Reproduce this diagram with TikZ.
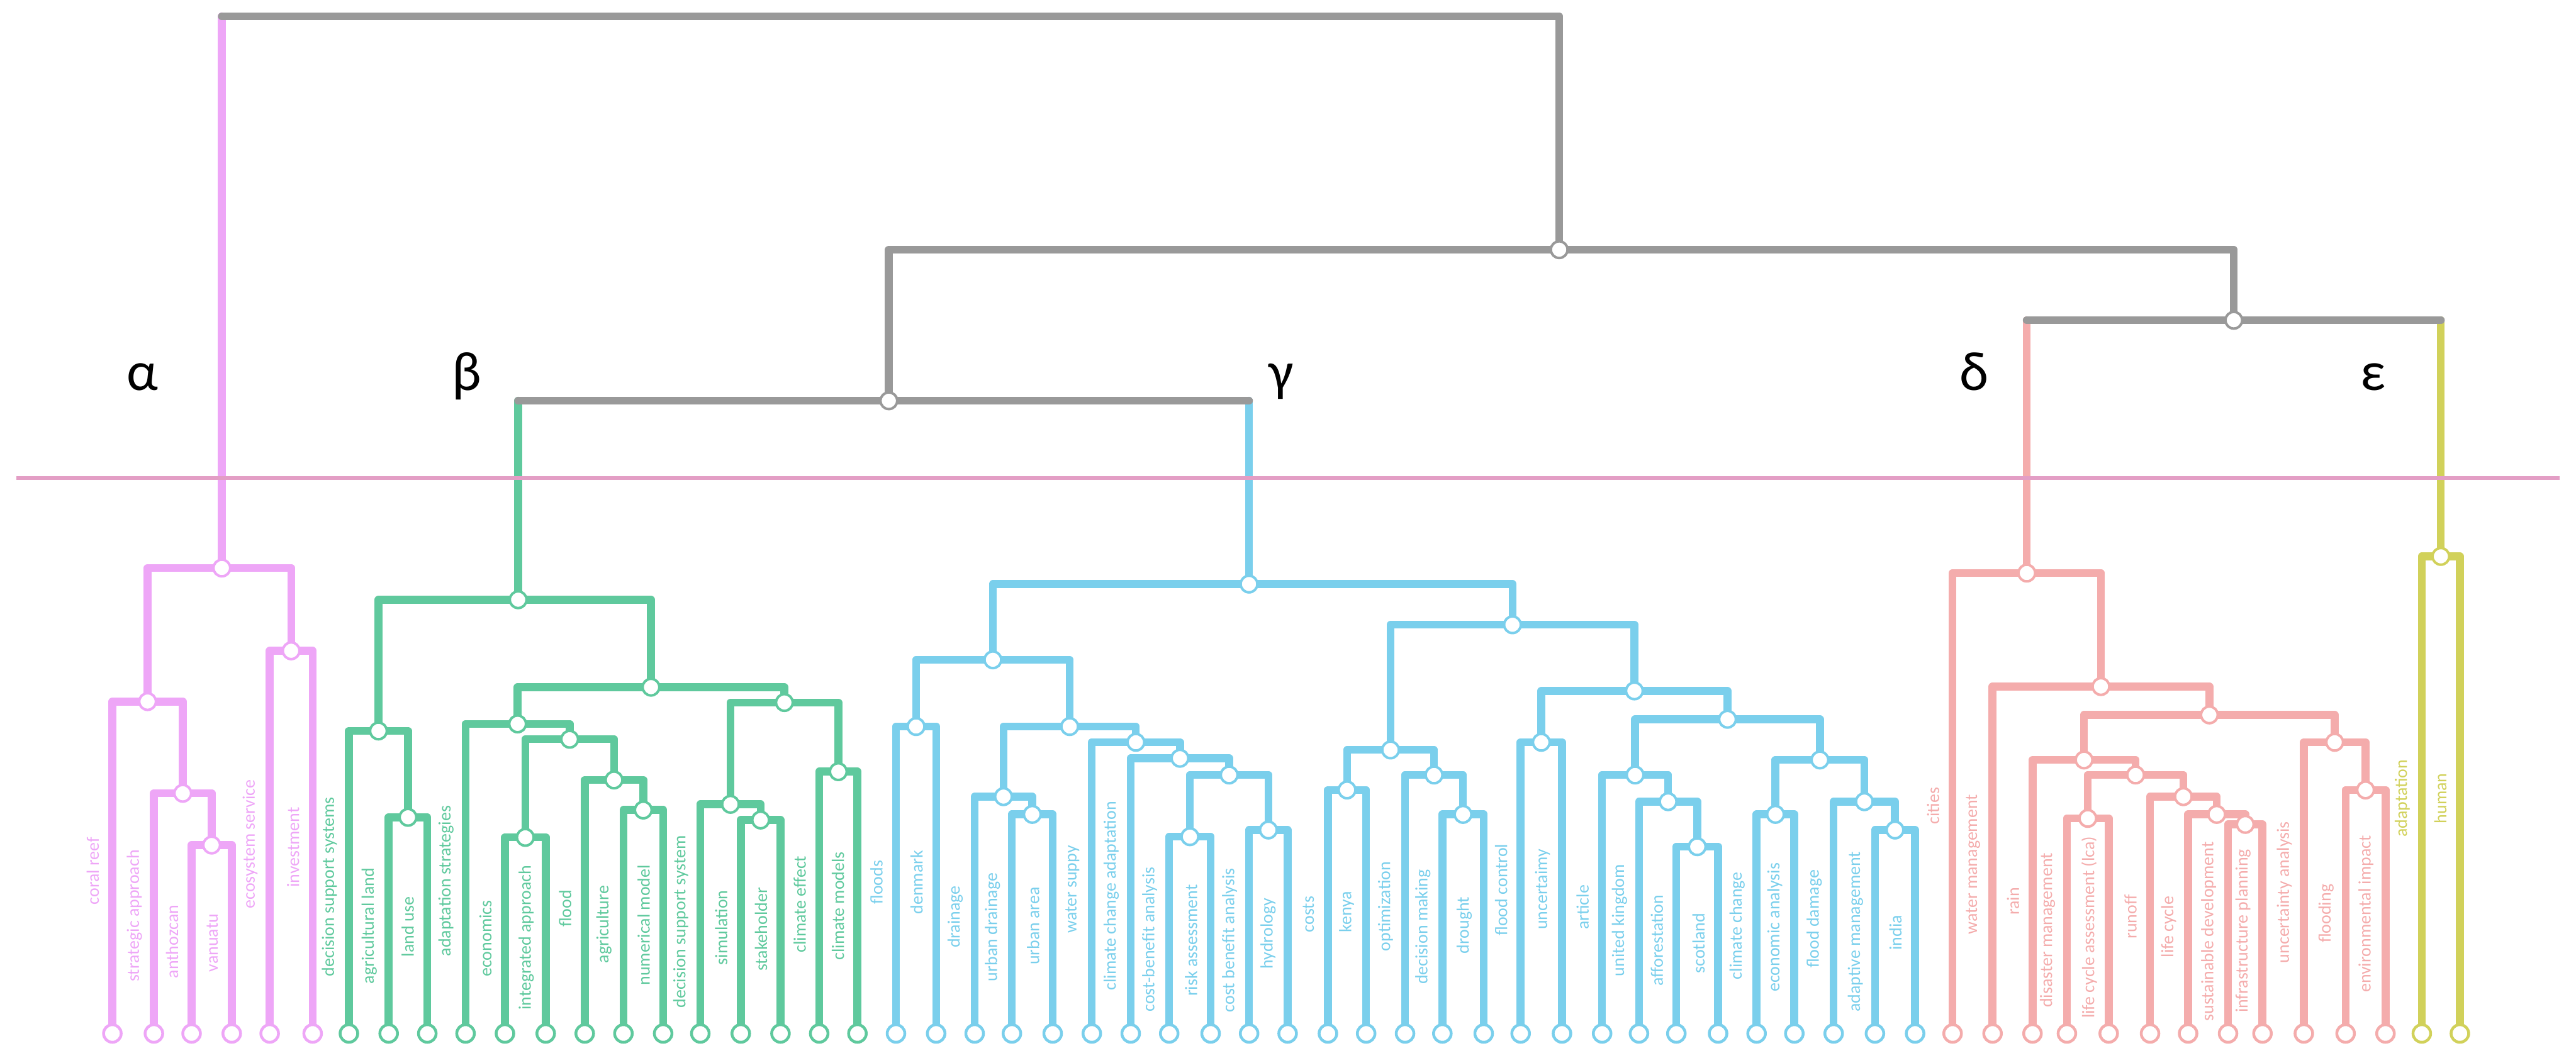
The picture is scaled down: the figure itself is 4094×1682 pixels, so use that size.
\documentclass[tikz,border=0pt]{standalone}
\usepackage{fontspec}
\setmainfont{Carlito}
\usetikzlibrary{calc}
\definecolor{cA}{HTML}{EEA6F7}
\definecolor{cB}{HTML}{5FC99D}
\definecolor{cC}{HTML}{7ACFEC}
\definecolor{cD}{HTML}{F4ACAC}
\definecolor{cE}{HTML}{D1D15A}
\definecolor{cG}{HTML}{999999}
\definecolor{cCut}{HTML}{E39EC5}
\newcommand\leafnode[5]{\coordinate (#1) at (#2,1643); \node[lab,text=#3] (#1t) at ({#2-31},#5) {#4};}
\newcommand\mergept[4]{\coordinate (#1-mx) at ($(#2)!0.5!(#3)$); \coordinate (#1-my) at (0,#4); \coordinate (#1) at (#1-mx |- #1-my);}
\newcommand\joinpair[4]{\draw[br,#4] (#2) |- (#1) -| (#3);}
\begin{document}
\begin{tikzpicture}[x=0.01cm,y=-0.01cm,
  br/.style={line width=0.125cm,line cap=round,line join=round},
  lab/.style={rotate=90,inner sep=0,font=\fontsize{7.95}{9}\selectfont},
  greek/.style={anchor=base,inner sep=0,font=\fontsize{25}{30}\selectfont},
  leafc/.style={circle,fill=white,line width=0.045cm,minimum size=0.28cm,inner sep=0},
  inode/.style={circle,fill=white,line width=0.04cm,minimum size=0.265cm,inner sep=0}]
\useasboundingbox (0,0) rectangle (4094,1682);
% leaves and labels
\leafnode{L0}{178.6}{cA}{coral reef}{1384.6}
\leafnode{L1}{244.6}{cA}{strategic approach}{1456}
\leafnode{L2}{304.5}{cA}{anthozcan}{1497}
\leafnode{L3}{368.3}{cA}{vanuatu}{1499}
\leafnode{L4}{428.6}{cA}{ecosystem service}{1342}
\leafnode{L5}{496.9}{cA}{investment}{1347}
\leafnode{L6}{554.5}{cB}{decision support systems}{1410}
\leafnode{L7}{617.7}{cB}{agricultural land}{1472}
\leafnode{L8}{679.1}{cB}{land use}{1473.5}
\leafnode{L9}{739.9}{cB}{adaptation strategies}{1400.5}
\leafnode{L10}{802.5}{cB}{economics}{1492}
\leafnode{L11}{867.3}{cB}{integrated approach}{1490.7}
\leafnode{L12}{929.3}{cB}{flood}{1444.3}
\leafnode{L13}{990.8}{cB}{agriculture}{1469.5}
\leafnode{L14}{1053.9}{cB}{numerical model}{1470.8}
\leafnode{L15}{1113.0}{cB}{decision support system}{1465.5}
\leafnode{L16}{1177.3}{cB}{simulation}{1474.8}
\leafnode{L17}{1240.4}{cB}{stakeholder}{1477.5}
\leafnode{L18}{1301.9}{cB}{climate effect}{1437.7}
\leafnode{L19}{1362.7}{cB}{climate models}{1440.3}
\leafnode{L20}{1424.0}{cC}{floods}{1402.6}
\leafnode{L21}{1487.8}{cC}{denmark}{1402.6}
\leafnode{L22}{1549.0}{cC}{drainage}{1457.6}
\leafnode{L23}{1608.2}{cC}{urban drainage}{1474}
\leafnode{L24}{1673.0}{cC}{urban area}{1472.1}
\leafnode{L25}{1735.2}{cC}{water suppy}{1413.8}
\leafnode{L26}{1797.0}{cC}{climate change adaptation}{1424.4}
\leafnode{L27}{1858.2}{cC}{cost-benefit analysis}{1493.4}
\leafnode{L28}{1924.0}{cC}{risk assessment}{1495.2}
\leafnode{L29}{1985.2}{cC}{cost benefit analysis}{1494.7}
\leafnode{L30}{2046.4}{cC}{hydrology}{1484.1}
\leafnode{L31}{2110.4}{cC}{costs}{1453.6}
\leafnode{L32}{2171.2}{cC}{kenya}{1449.6}
\leafnode{L33}{2233.0}{cC}{optimization}{1441.1}
\leafnode{L34}{2292.3}{cC}{decision making}{1473.5}
\leafnode{L35}{2358.0}{cC}{drought}{1471.1}
\leafnode{L36}{2416.7}{cC}{flood control}{1414.6}
\leafnode{L37}{2482.4}{cC}{uncertaimy}{1413.8}
\leafnode{L38}{2546.2}{cC}{article}{1442.4}
\leafnode{L39}{2604.8}{cC}{united kingdom}{1463.1}
\leafnode{L40}{2664.2}{cC}{afforestation}{1495.2}
\leafnode{L41}{2730.5}{cC}{scotland}{1499.5}
\leafnode{L42}{2791.7}{cC}{climate change}{1471.6}
\leafnode{L43}{2851.7}{cC}{economic analysis}{1474.3}
\leafnode{L44}{2914.2}{cC}{flood damage}{1461}
\leafnode{L45}{2979.8}{cC}{adaptive management}{1481.4}
\leafnode{L46}{3043.6}{cC}{india}{1482.8}
\leafnode{L47}{3103.2}{cD}{cities}{1281.1}
\leafnode{L48}{3166.7}{cD}{water management}{1374.3}
\leafnode{L49}{3230.2}{cD}{rain}{1433.1}
\leafnode{L50}{3284.9}{cD}{disaster management}{1479}
\leafnode{L51}{3351.3}{cD}{life cycle assessment (lca)}{1474.3}
\leafnode{L52}{3417.0}{cD}{runoff}{1457.6}
\leafnode{L53}{3477.5}{cD}{life cycle}{1473.5}
\leafnode{L54}{3541.0}{cD}{sustainable development}{1480.9}
\leafnode{L55}{3595.7}{cD}{infrastructure planning}{1479.9}
\leafnode{L56}{3661.4}{cD}{uncertainty analysis}{1418.6}
\leafnode{L57}{3727.8}{cD}{flooding}{1452.3}
\leafnode{L58}{3791.2}{cD}{environmental impact}{1453}
\leafnode{L59}{3848.9}{cE}{adaptation}{1269.2}
\leafnode{L60}{3909.4}{cE}{human}{1269.2}
% merge points
\mergept{Pc}{L2}{L3}{1343.4}
\mergept{Pb}{L1}{Pc}{1261.1}
\mergept{Pa}{L0}{Pb}{1115.3}
\mergept{Pd}{L4}{L5}{1034.6}
\coordinate (Ptop) at (352.6,903);
\mergept{Gb}{L7}{L8}{1299.3}
\mergept{Ga}{L6}{Gb}{1162}
\mergept{Gf}{L10}{L11}{1331.2}
\mergept{Gh}{L13}{L14}{1287.7}
\mergept{Gg}{L12}{Gh}{1239.9}
\mergept{Ge}{Gf}{Gg}{1175.2}
\mergept{Gd}{L9}{Ge}{1150.8}
\mergept{Gk}{L16}{L17}{1303.6}
\mergept{Gj}{L15}{Gk}{1278.6}
\mergept{Gl}{L18}{L19}{1226.7}
\mergept{Gi}{Gj}{Gl}{1116.8}
\mergept{Gc}{Gd}{Gi}{1092.4}
\coordinate (Gtop) at (823.5,953.4);
\mergept{Bb}{L20}{L21}{1155}
\mergept{Be}{L23}{L24}{1294.6}
\mergept{Bd}{L22}{Be}{1266.4}
\mergept{Bi}{L27}{L28}{1330.1}
\mergept{Bj}{L29}{L30}{1319.5}
\mergept{Bh}{Bi}{Bj}{1232}
\mergept{Bg}{L26}{Bh}{1205.4}
\mergept{Bf}{L25}{Bg}{1180}
\mergept{Bc}{Bd}{Bf}{1155}
\mergept{Ba}{Bb}{Bc}{1048.9}
\mergept{Bm}{L31}{L32}{1255.8}
\mergept{Bo}{L34}{L35}{1294.6}
\mergept{Bn}{L33}{Bo}{1232}
\mergept{Bl}{Bm}{Bn}{1192.2}
\mergept{Bq}{L36}{L37}{1180}
\mergept{Bu}{L40}{L41}{1346}
\mergept{Bt}{L39}{Bu}{1274.4}
\mergept{Bs}{L38}{Bt}{1232}
\mergept{Bw}{L42}{L43}{1294.6}
\mergept{By}{L45}{L46}{1319.5}
\mergept{Bx}{L44}{By}{1274.4}
\mergept{Bv}{Bw}{Bx}{1208.1}
\mergept{Br}{Bs}{Bv}{1143.4}
\mergept{Bp}{Bq}{Br}{1098.3}
\mergept{Bk}{Bl}{Bp}{993.2}
\coordinate (Btop) at (1985,928.5);
\mergept{Se}{L50}{L51}{1301}
\mergept{Sh}{L54}{L55}{1310.5}
\mergept{Sg}{L53}{Sh}{1294.6}
\mergept{Sf}{L52}{Sg}{1266.4}
\mergept{Sd}{Se}{Sf}{1232}
\mergept{Sc}{L49}{Sd}{1208.1}
\mergept{Sj}{L57}{L58}{1255.8}
\mergept{Si}{L56}{Sj}{1180}
\mergept{Sb}{Sc}{Si}{1136.5}
\mergept{Sa}{L48}{Sb}{1091.4}
\mergept{Stop}{L47}{Sa}{911}
\mergept{Ytop}{L59}{L60}{884.5}
\coordinate (N2) at (1412.6,637.1);
\mergept{N3}{Stop}{Ytop}{509.1}
\coordinate (N1) at (2478,396.9);
\mergept{R}{Ptop}{N1}{26}
% colored branches
\joinpair{Pc}{L2}{L3}{cA}
\joinpair{Pb}{L1}{Pc}{cA}
\joinpair{Pa}{L0}{Pb}{cA}
\joinpair{Pd}{L4}{L5}{cA}
\joinpair{Ptop}{Pa}{Pd}{cA}
\joinpair{Gb}{L7}{L8}{cB}
\joinpair{Ga}{L6}{Gb}{cB}
\joinpair{Gf}{L10}{L11}{cB}
\joinpair{Gh}{L13}{L14}{cB}
\joinpair{Gg}{L12}{Gh}{cB}
\joinpair{Ge}{Gf}{Gg}{cB}
\joinpair{Gd}{L9}{Ge}{cB}
\joinpair{Gk}{L16}{L17}{cB}
\joinpair{Gj}{L15}{Gk}{cB}
\joinpair{Gl}{L18}{L19}{cB}
\joinpair{Gi}{Gj}{Gl}{cB}
\joinpair{Gc}{Gd}{Gi}{cB}
\joinpair{Gtop}{Ga}{Gc}{cB}
\joinpair{Bb}{L20}{L21}{cC}
\joinpair{Be}{L23}{L24}{cC}
\joinpair{Bd}{L22}{Be}{cC}
\joinpair{Bi}{L27}{L28}{cC}
\joinpair{Bj}{L29}{L30}{cC}
\joinpair{Bh}{Bi}{Bj}{cC}
\joinpair{Bg}{L26}{Bh}{cC}
\joinpair{Bf}{L25}{Bg}{cC}
\joinpair{Bc}{Bd}{Bf}{cC}
\joinpair{Ba}{Bb}{Bc}{cC}
\joinpair{Bm}{L31}{L32}{cC}
\joinpair{Bo}{L34}{L35}{cC}
\joinpair{Bn}{L33}{Bo}{cC}
\joinpair{Bl}{Bm}{Bn}{cC}
\joinpair{Bq}{L36}{L37}{cC}
\joinpair{Bu}{L40}{L41}{cC}
\joinpair{Bt}{L39}{Bu}{cC}
\joinpair{Bs}{L38}{Bt}{cC}
\joinpair{Bw}{L42}{L43}{cC}
\joinpair{By}{L45}{L46}{cC}
\joinpair{Bx}{L44}{By}{cC}
\joinpair{Bv}{Bw}{Bx}{cC}
\joinpair{Br}{Bs}{Bv}{cC}
\joinpair{Bp}{Bq}{Br}{cC}
\joinpair{Bk}{Bl}{Bp}{cC}
\joinpair{Btop}{Ba}{Bk}{cC}
\joinpair{Se}{L50}{L51}{cD}
\joinpair{Sh}{L54}{L55}{cD}
\joinpair{Sg}{L53}{Sh}{cD}
\joinpair{Sf}{L52}{Sg}{cD}
\joinpair{Sd}{Se}{Sf}{cD}
\joinpair{Sc}{L49}{Sd}{cD}
\joinpair{Sj}{L57}{L58}{cD}
\joinpair{Si}{L56}{Sj}{cD}
\joinpair{Sb}{Sc}{Si}{cD}
\joinpair{Sa}{L48}{Sb}{cD}
\joinpair{Stop}{L47}{Sa}{cD}
\joinpair{Ytop}{L59}{L60}{cE}
% cluster stems
\draw[br,cA] (Ptop) -- (Ptop |- R);
\draw[br,cB] (Gtop) -- (Gtop |- N2);
\draw[br,cC] (Btop) -- (Btop |- N2);
\draw[br,cD] (Stop) -- (Stop |- N3);
\draw[br,cE] (Ytop) -- (Ytop |- N3);
% gray upper tree
\draw[br,cG] (Ptop |- R) -- (N1 |- R) -- (N1);
\draw[br,cG] (N2) |- (N1) -| (N3);
\draw[br,cG] (Gtop |- N2) -- (Btop |- N2);
\draw[br,cG] (Stop |- N3) -- (Ytop |- N3);
% cut line
\coordinate (cutL) at (26,760);
\coordinate (cutR) at (4068,760);
\draw[cCut,line width=0.065cm] (cutL) -- (cutR);
% circles
\foreach \i in {0,...,5} \node[leafc,draw=cA] (L\i c) at (L\i) {};
\foreach \i in {6,...,19} \node[leafc,draw=cB] (L\i c) at (L\i) {};
\foreach \i in {20,...,46} \node[leafc,draw=cC] (L\i c) at (L\i) {};
\foreach \i in {47,...,58} \node[leafc,draw=cD] (L\i c) at (L\i) {};
\foreach \i in {59,60} \node[leafc,draw=cE] (L\i c) at (L\i) {};
\foreach \n in {Pa,Pb,Pc,Pd,Ptop} \node[inode,draw=cA] (\n-c) at (\n) {};
\foreach \n in {Ga,Gb,Gc,Gd,Ge,Gf,Gg,Gh,Gi,Gj,Gk,Gl,Gtop} \node[inode,draw=cB] (\n-c) at (\n) {};
\foreach \n in {Ba,Bb,Bc,Bd,Be,Bf,Bg,Bh,Bi,Bj,Bk,Bl,Bm,Bn,Bo,Bp,Bq,Br,Bs,Bt,Bu,Bv,Bw,Bx,By,Btop} \node[inode,draw=cC] (\n-c) at (\n) {};
\foreach \n in {Sa,Sb,Sc,Sd,Se,Sf,Sg,Sh,Si,Sj,Stop} \node[inode,draw=cD] (\n-c) at (\n) {};
\node[inode,draw=cE] (Ytop-c) at (Ytop) {};
\foreach \n in {N1,N2,N3} \node[inode,draw=cG] (\n-c) at (\n) {};
% cluster letters
\node[greek] (alpha) at (226,620) {α};
\node[greek] (beta) at (742,620) {β};
\node[greek] (gamma) at (2036,620) {γ};
\node[greek] (delta) at (3137,620) {δ};
\node[greek] (epsilon) at (3771,620) {ε};
\end{tikzpicture}
\end{document}
